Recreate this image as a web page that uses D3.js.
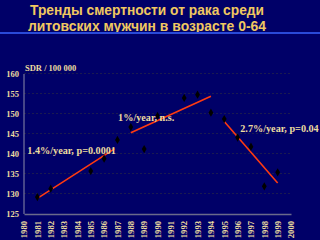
<!DOCTYPE html>
<html>
<head>
<meta charset="utf-8">
<script src="https://cdn.jsdelivr.net/npm/d3@7"></script>
<style>
  html, body { margin: 0; padding: 0; background: #000068; }
  svg { display: block; }
</style>
</head>
<body>
<div id="chart"></div>
<script>
// Data
const titleLines = ["Тренды смертности от рака среди", "литовских мужчин в возрасте 0-64"];
const years = d3.range(1980, 2001);
const sdr = [null, 129.1, 131.2, null, null, 135.6, 138.7, 143.4, 146.6, 141.1,
             149.4, null, 153.9, 154.7, 150.2, 148.6, 144.0, 141.7, 131.8, 135.3, null];
const yTicks = [125, 130, 135, 140, 145, 150, 155, 160];
const trendStart = [[1981, 128.8], [1988, 145.2], [1995, 148.0]];
const trendEnd = [[1986.8, 141.2], [1994, 154.3], [1999, 132.6]];
const trendLabels = ["1.4%/year, p=0.0001", "1%/year, n.s.", "2.7%/year, p=0.04"];
const labelAt = [[1980.25, 140.0], [1987.05, 148.2], [1996.2, 145.3]];

const width = 320, height = 240;
const bg = "#000068";
const gold = "#f0c860";
const pale = "#ecdca0";

const svg = d3.select("#chart").append("svg")
  .attr("width", width)
  .attr("height", height);

svg.append("rect").attr("width", width).attr("height", height).attr("fill", bg);

// Title
svg.selectAll(".title")
  .data(titleLines)
  .enter()
  .append("text")
  .attr("class", "title")
  .attr("x", 147)
  .attr("y", (d, i) => 15 + i * 16)
  .attr("text-anchor", "middle")
  .attr("font-family", "Liberation Sans, Arial, sans-serif")
  .attr("font-weight", "bold")
  .attr("font-size", "15px")
  .attr("fill", gold)
  .attr("textLength", (d, i) => (i === 0 ? 234 : 238))
  .attr("lengthAdjust", "spacingAndGlyphs")
  .text(d => d);

svg.append("rect")
  .attr("x", 0).attr("y", 32)
  .attr("width", width).attr("height", 2)
  .attr("fill", "#2a4ad8");

// Scales
const x = d3.scaleLinear().domain([1980, 2000]).range([24, 291]);
const y = d3.scaleLinear().domain([125, 160]).range([213.5, 73.5]);

const serif = "Liberation Serif, Times New Roman, serif";

// Grid lines
svg.append("g")
  .selectAll("line")
  .data(yTicks.slice(1))
  .enter()
  .append("line")
  .attr("x1", 24).attr("x2", 291)
  .attr("y1", d => y(d)).attr("y2", d => y(d))
  .attr("stroke", "#1a1a50")
  .attr("stroke-dasharray", "2,2")
  .attr("stroke-width", 1);

// Y axis
const yAxis = svg.append("g")
  .attr("transform", "translate(23.5,0)")
  .call(d3.axisLeft(y).tickValues(yTicks).tickSize(0).tickPadding(4.5));
yAxis.select(".domain").attr("stroke", "#8c8ca8").attr("stroke-width", 1);
yAxis.selectAll("text")
  .attr("fill", pale)
  .attr("font-family", serif)
  .attr("font-weight", "bold")
  .attr("font-size", "8.5px");

// X axis
const xAxis = svg.append("g")
  .attr("transform", "translate(0,214)")
  .call(d3.axisBottom(x).tickValues(years).tickFormat(d3.format("d")).tickSize(0));
xAxis.select(".domain").attr("stroke", "#6a6a8a").attr("stroke-width", 1.5);
xAxis.selectAll("text")
  .attr("fill", pale)
  .attr("font-family", serif)
  .attr("font-weight", "bold")
  .attr("font-size", "8.6px")
  .attr("text-anchor", "end")
  .attr("transform", "rotate(-90)")
  .attr("x", -7)
  .attr("y", 0)
  .attr("dy", "0.32em");

svg.append("text")
  .attr("x", 25).attr("y", 71)
  .attr("font-family", serif)
  .attr("font-weight", "bold")
  .attr("font-size", "8.5px")
  .attr("fill", pale)
  .text("SDR / 100 000");

// Trend lines
svg.append("g")
  .selectAll("line")
  .data(trendStart)
  .enter()
  .append("line")
  .attr("x1", d => x(d[0])).attr("y1", d => y(d[1]))
  .attr("x2", (d, i) => x(trendEnd[i][0])).attr("y2", (d, i) => y(trendEnd[i][1]))
  .attr("stroke", "#ff3a10")
  .attr("stroke-width", 1.6);

// Observed points
const points = years.map((yr, i) => ({ year: yr, value: sdr[i] })).filter(d => d.value !== null);
svg.append("g")
  .selectAll("path")
  .data(points)
  .enter()
  .append("path")
  .attr("d", d3.symbol().type(d3.symbolDiamond).size(20))
  .attr("transform", d => `translate(${x(d.year)},${y(d.value)})`)
  .attr("fill", "#000");

// Trend annotations
svg.append("g")
  .selectAll("text")
  .data(trendLabels)
  .enter()
  .append("text")
  .attr("x", (d, i) => x(labelAt[i][0]))
  .attr("y", (d, i) => y(labelAt[i][1]))
  .attr("font-family", serif)
  .attr("font-weight", "bold")
  .attr("font-size", "10.2px")
  .attr("fill", pale)
  .text(d => d);
</script>
</body>
</html>
